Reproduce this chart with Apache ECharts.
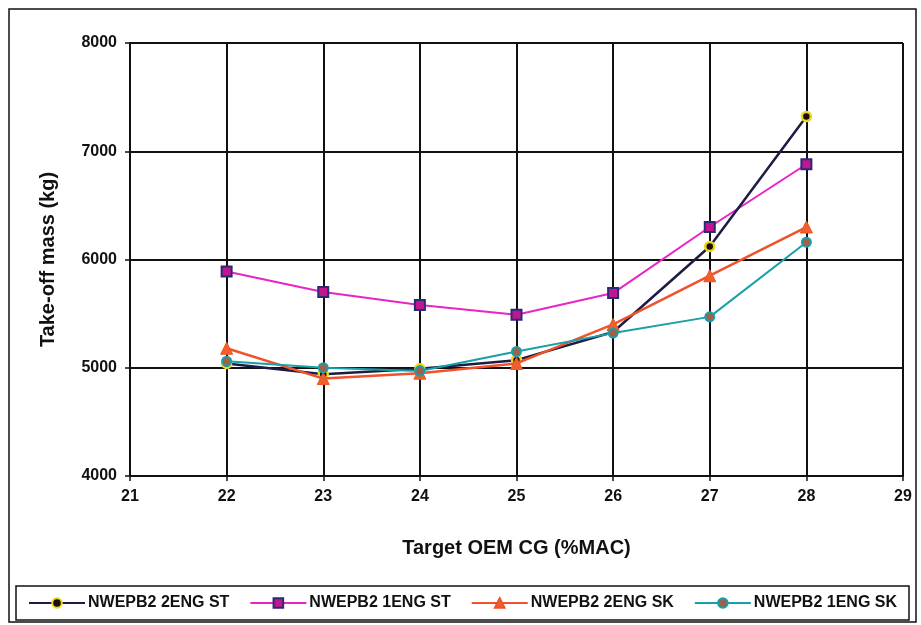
<!DOCTYPE html>
<html>
<head>
<meta charset="utf-8">
<script src="https://cdn.jsdelivr.net/npm/echarts@6/dist/echarts.min.js"></script>
<style>
  html, body { margin: 0; padding: 0; background: #fff; }
  #chart { width: 921px; height: 625px; }
</style>
</head>
<body>
<div id="chart"></div>
<script>
// Target OEM CG (%MAC) positions
const cgValues = [22, 23, 24, 25, 26, 27, 28];

// Take-off mass (kg) per configuration
const twoEngST = [5040, 4940, 4990, 5070, 5330, 6120, 7320];
const oneEngST = [5890, 5700, 5580, 5490, 5690, 6300, 6880];
const twoEngSK = [5180, 4900, 4950, 5040, 5400, 5850, 6300];
const oneEngSK = [5060, 5000, 4970, 5150, 5320, 5470, 6160];

const seriesNames = ['NWEPB2 2ENG ST', 'NWEPB2 1ENG ST', 'NWEPB2 2ENG SK', 'NWEPB2 1ENG SK'];

const pairs = vals => cgValues.map((x, i) => [x, vals[i]]);

const font = '"Liberation Sans", Arial, sans-serif';

const chart = echarts.init(document.getElementById('chart'));
chart.setOption({
  backgroundColor: '#fff',
  animation: false,
  graphic: [{
    type: 'rect',
    shape: { x: 9, y: 9, width: 907, height: 613 },
    style: { fill: 'none', stroke: '#111', lineWidth: 1.5 },
    silent: true,
    z: -1
  }],
  grid: { left: 130, right: 18, top: 43, bottom: 149 },
  xAxis: {
    type: 'value',
    min: 21, max: 29, interval: 1,
    name: 'Target OEM CG (%MAC)',
    nameLocation: 'middle',
    nameGap: 62,
    nameTextStyle: { fontFamily: font, fontWeight: 'bold', fontSize: 20, color: '#111' },
    axisLine: { show: true, lineStyle: { color: '#111', width: 2 } },
    axisTick: { show: true, length: 5, lineStyle: { color: '#111', width: 1.5 } },
    axisLabel: { fontFamily: font, fontWeight: 'bold', fontSize: 16, color: '#111', margin: 13 },
    splitLine: { show: true, lineStyle: { color: '#111', width: 2 } }
  },
  yAxis: {
    type: 'value',
    min: 4000, max: 8000, interval: 1000,
    name: 'Take-off mass (kg)',
    nameLocation: 'middle',
    nameGap: 72,
    nameTextStyle: { fontFamily: font, fontWeight: 'bold', fontSize: 20, color: '#111' },
    axisLine: { show: true, lineStyle: { color: '#111', width: 2 } },
    axisTick: { show: true, length: 5, lineStyle: { color: '#111', width: 1.5 } },
    axisLabel: {
      fontFamily: font, fontWeight: 'bold', fontSize: 16, color: '#111', margin: 13,
      formatter: v => String(v)
    },
    splitLine: { show: true, lineStyle: { color: '#111', width: 2 } }
  },
  legend: {
    bottom: 5,
    left: 16,
    width: 896,
    padding: [9, 12, 9, 12],
    itemGap: 20,
    itemWidth: 56,
    itemHeight: 12,
    borderColor: '#111',
    borderWidth: 1.5,
    textStyle: { fontFamily: font, fontSize: 16, fontWeight: 'bold', color: '#111', padding: [0, 0, 0, -2] },
    data: seriesNames
  },
  series: [
    {
      name: seriesNames[0], type: 'line', data: pairs(twoEngST),
      symbol: 'circle', symbolSize: 9,
      lineStyle: { color: '#1c1c44', width: 2.5 },
      itemStyle: { color: '#111', borderColor: '#f2d21a', borderWidth: 2.5 },
      z: 4
    },
    {
      name: seriesNames[1], type: 'line', data: pairs(oneEngST),
      symbol: 'rect', symbolSize: 10,
      lineStyle: { color: '#e824c4', width: 2 },
      itemStyle: { color: '#c0168e', borderColor: '#2a2a78', borderWidth: 2 },
      z: 3
    },
    {
      name: seriesNames[2], type: 'line', data: pairs(twoEngSK),
      symbol: 'triangle', symbolSize: 12,
      lineStyle: { color: '#f0522a', width: 2.5 },
      itemStyle: { color: '#f0602a', borderColor: '#f0522a', borderWidth: 1 },
      z: 5
    },
    {
      name: seriesNames[3], type: 'line', data: pairs(oneEngSK),
      symbol: 'circle', symbolSize: 9,
      lineStyle: { color: '#17a0aa', width: 2 },
      itemStyle: { color: '#a0604a', borderColor: '#17a0aa', borderWidth: 2 },
      z: 6
    }
  ]
});
</script>
</body>
</html>
